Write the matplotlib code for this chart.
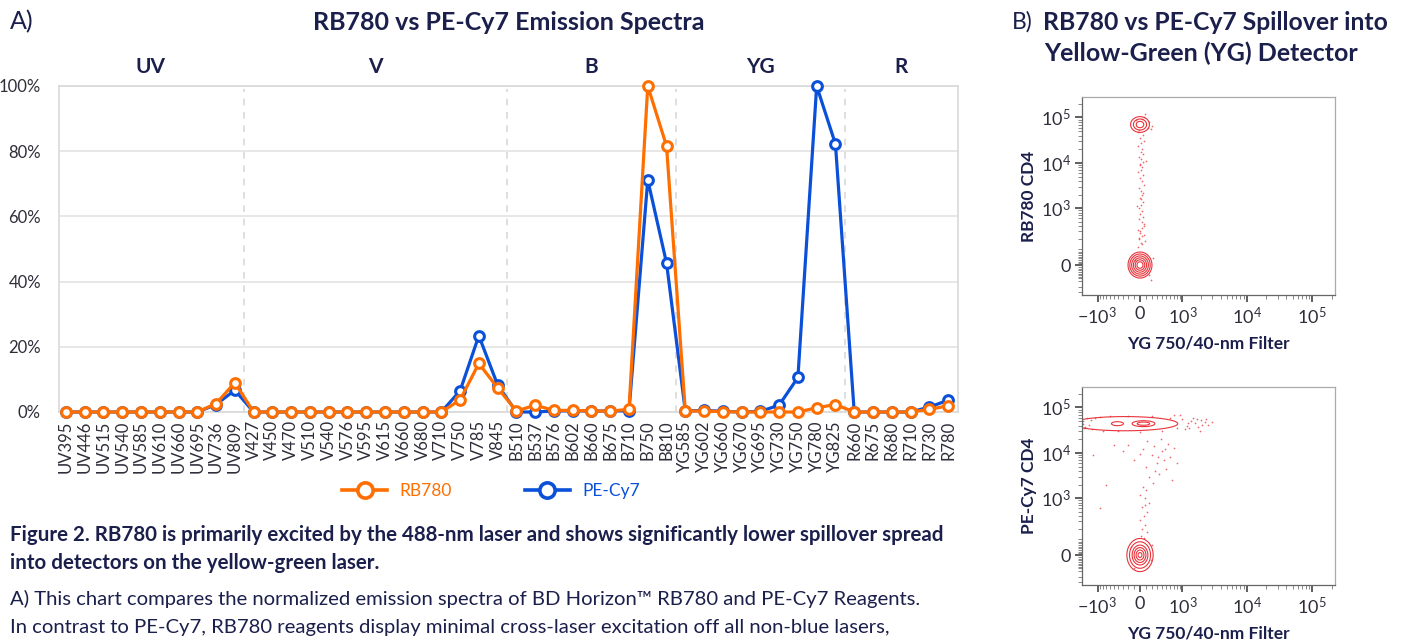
import numpy as np
import matplotlib
matplotlib.use('Agg')
import matplotlib.pyplot as plt
from matplotlib.lines import Line2D
from matplotlib.ticker import FixedLocator, NullFormatter, FixedFormatter
import matplotlib.transforms as mtransforms

plt.rcParams['font.family'] = ['Lato', 'DejaVu Sans']
plt.rcParams['mathtext.fontset'] = 'custom'
plt.rcParams['mathtext.rm'] = 'Lato'
plt.rcParams['mathtext.it'] = 'Lato:italic'
plt.rcParams['mathtext.bf'] = 'Lato:bold'

# ---------------- data: emission spectra ----------------
categories = ['UV395', 'UV446', 'UV515', 'UV540', 'UV585', 'UV610', 'UV660', 'UV695', 'UV736', 'UV809',
              'V427', 'V450', 'V470', 'V510', 'V540', 'V576', 'V595', 'V615', 'V660', 'V680', 'V710',
              'V750', 'V785', 'V845',
              'B510', 'B537', 'B576', 'B602', 'B660', 'B675', 'B710', 'B750', 'B810',
              'YG585', 'YG602', 'YG660', 'YG670', 'YG695', 'YG730', 'YG750', 'YG780', 'YG825',
              'R660', 'R675', 'R680', 'R710', 'R730', 'R780']
rb780 = [0, 0, 0, 0, 0, 0, 0, 0, 2.6, 9.0,
         0, 0, 0, 0, 0, 0, 0, 0, 0, 0, 0, 3.7, 14.9, 7.4,
         0.3, 2.1, 0.5, 0.5, 0.3, 0.3, 0.8, 100, 81.6,
         0.3, 0.3, 0.1, 0, 0, 0, 0, 1.3, 2.3,
         0, 0, 0, 0, 0.8, 1.9]
pecy7 = [0, 0, 0, 0, 0, 0, 0, 0, 2.3, 6.7,
         0, 0, 0, 0, 0, 0, 0, 0, 0, 0, 0, 6.5, 23.4, 8.3,
         0, 0, 0.3, 0.4, 0.3, 0.3, 0.4, 71.2, 45.7,
         0.3, 0.5, 0.2, 0, 0.2, 2.1, 10.6, 100, 82.2,
         0, 0, 0, 0, 1.5, 3.6]
sections = ['UV', 'V', 'B', 'YG', 'R']
ytick_vals = [0, 20, 40, 60, 80, 100]
ytick_labels = ['0%', '20%', '40%', '60%', '80%', '100%']

# ---------------- data: flow cytometry panels ----------------
flow_xticks = [-1e3, 0, 1e3, 1e4, 1e5]
flow_xticklabels = [r'$-10^3$', '0', r'$10^3$', r'$10^4$', r'$10^5$']
flow_yticks = [0, 1e3, 1e4, 1e5]
flow_yticklabels = ['0', r'$10^3$', r'$10^4$', r'$10^5$']

# panel 1 (RB780 CD4) events
p1_x = [15, -20, 40, 5, -35, 60, 25, -10, 50, 0, 30, -25, 10, 55, -5, 35,
        12, -18, 70, 28, 2, 45, -30, 20, 38, -8, 58, 10, -15, 48, 22, 33,
        -28, 16, 65, 6, 42, -12, 30, 80, 150, 200, -60, 180, 220, 160, -90, 190,
        -40, 25, 90, -15, 60, 5, 35, 75, -50, 20, 45, 0, 100, 130, 70, -30]
p1_y = [150, 190, 230, 280, 330, 400, 480, 560, 650, 760, 880, 1000, 1200, 1400, 1700, 2000,
        2400, 2800, 3300, 3900, 4600, 5400, 6200, 7100, 8200, 9300, 10500, 12000, 13500, 15500, 17500, 20000,
        23000, 27000, 31000, 36000, 42000, 52000, 95000, 120000, 80000, 65000, 90000, 55000, 40, -60, 30, -90,
        120, 140, 170, 210, 250, 300, 360, 440, 1100, 1600, 2200, 8800, 11000, 60000, 100000, 48000]
# panel 2 (PE-Cy7 CD4) events
p2_x = [-1700, -1600, -1500, -1400, -1250, -1100, -900, -800, -600, -400, -200, 0, 200, 400, 600,
        800, 1000, 1200, 1400, 1600, 1800, 2000, 2300, 2600, 3000, 1500, 1100, -1750, 700, 1900,
        -200, 50, 200, 400, 600, 300, 100, 500, -100, 250, 700, 350, 150, 450, 800, 0, 550, -300, 120, 380,
        50, 100, 0, 80, 150, 30, 120, 60, 0, 90, 40, 110, 20, 70,
        -1200, -700, -900, -500, 180, -150, 200, -100,
        1300, 1700, 2100, 900, -1300, -1650, 2400, 1250, 650, 320, 480, 220, 90, 260]
p2_y = [50000, 38000, 60000, 42000, 33000, 58000, 62000, 31000, 64000, 30000, 66000, 29000, 65000, 31000, 60000,
        35000, 55000, 40000, 50000, 45000, 38000, 52000, 47000, 42000, 48000, 60000, 33000, 43000, 68000, 30000,
        15000, 12000, 9000, 11000, 8000, 6000, 5000, 4500, 7000, 14000, 13000, 3500, 3000, 7000, 6000, 9500, 16000, 11000, 18000, 20000,
        1800, 1500, 1200, 1000, 800, 650, 500, 400, 320, 250, 200, 160, 130, 110,
        9000, 2000, 600, 15000, -30, 50, 60, -80,
        36000, 56000, 41000, 70000, 52000, 36000, 55000, 45000, 2500, 8000, 12000, 2200, 700, 4000]

# contour rings: centre (data units), radii in transformed units, ring scales
p1_pops = [((0, 70000), (0.33, 0.40), [1.0, 0.7, 0.4]),
           ((0, 0), (0.42, 0.66), [1.0, 0.85, 0.7, 0.55, 0.4, 0.25])]
p2_pops = [((-262, 44000), (1.85, 0.36), [1.0]),
           ((-416, 44000), (0.21, 0.10), [1.0]),
           ((58, 44000), (0.40, 0.15), [1.0, 0.55]),
           ((0, 0), (0.46, 0.84), [1.0, 0.8, 0.6, 0.45, 0.3, 0.15])]

ORANGE = '#FF6E00'
BLUE = '#0A50D8'
NAVY = '#1B1F4B'
TICK = '#2E2E3A'
RED = '#E8333A'
WX, WY = 475.0, 112.0

W, H = 1406, 640
fig = plt.figure(figsize=(W / 100, H / 100), dpi=100)


def fx(x):
    return x / W


def fy(y):
    return 1 - y / H


def box(l, t, r, b):
    return [fx(l), fy(b), (r - l) / W, (b - t) / H]


# ---------------- Panel A ----------------
ax = fig.add_axes(box(59, 86, 958, 412))
xs = np.arange(len(categories))
ax.plot(xs, np.array(pecy7) / 100, color=BLUE, lw=2.3, marker='o', ms=7,
        mfc='white', mec=BLUE, mew=2.2, zorder=3, clip_on=False)
ax.plot(xs, np.array(rb780) / 100, color=ORANGE, lw=2.3, marker='o', ms=7,
        mfc='white', mec=ORANGE, mew=2.2, zorder=4, clip_on=False)
ax.set_xlim(-0.37, len(categories) - 1 + 0.53)
ax.set_ylim(0, 1)
ax.set_yticks(np.array(ytick_vals) / 100)
ax.set_yticklabels(ytick_labels, fontsize=12, color=TICK)
ax.set_xticks(xs)
ax.set_xticklabels(categories, rotation=90, fontsize=12, color=TICK)
ax.tick_params(length=0, pad=6)
ax.tick_params(axis='y', pad=13)
ax.grid(axis='y', color='#E3E3E3', lw=1.2)
ax.set_axisbelow(True)
for s in ax.spines.values():
    s.set_color('#D9D9D9')
    s.set_linewidth(1.2)

# section labels and separators
prefixes = [''.join(ch for ch in c if ch.isalpha()) for c in categories]
trans = mtransforms.blended_transform_factory(ax.transData, ax.transAxes)
for i, sec in enumerate(sections):
    idx = [k for k, p in enumerate(prefixes) if p == sec]
    ax.text((idx[0] + idx[-1]) / 2, 1 + 19 / 326, sec, transform=trans, ha='center',
            va='center', fontsize=15, fontweight='bold', color=NAVY)
    if i < len(sections) - 1:
        ax.plot([idx[-1] + 0.5] * 2, [0, 0.99], transform=trans, color='#D9D9D9',
                lw=1.2, ls=(0, (4, 4)), zorder=1)

# legend
handles = [Line2D([], [], color=ORANGE, lw=2.6, marker='o', ms=11, mfc='white', mec=ORANGE, mew=2.6),
           Line2D([], [], color=BLUE, lw=2.6, marker='o', ms=11, mfc='white', mec=BLUE, mew=2.6)]
leg = fig.legend(handles, ['RB780', 'PE-Cy7'], loc='center', bbox_to_anchor=(fx(491), fy(491)),
                 ncol=2, frameon=False, fontsize=12.5, handlelength=2.6, columnspacing=4.2,
                 handletextpad=0.7)
for t, c in zip(leg.get_texts(), [ORANGE, BLUE]):
    t.set_color(c)

# titles
fig.text(fx(10), fy(22), 'A)', fontsize=18, color=NAVY, va='center', ha='left')
fig.text(fx(509), fy(22), 'RB780 vs PE-Cy7 Emission Spectra', fontsize=18, color=NAVY,
         fontweight='bold', va='center', ha='center')
fig.text(fx(1012), fy(22), 'B)', fontsize=16.5, color=NAVY, va='center', ha='left')
fig.text(fx(1043), fy(22), 'RB780 vs PE-Cy7 Spillover into', fontsize=17.8, color=NAVY,
         fontweight='bold', va='center', ha='left')
fig.text(fx(1201), fy(53), 'Yellow-Green (YG) Detector', fontsize=18, color=NAVY,
         fontweight='bold', va='center', ha='center')

# caption
fig.text(fx(10), fy(535), 'Figure 2. RB780 is primarily excited by the 488-nm laser and shows '
         'significantly lower spillover spread', fontsize=14.8, color=NAVY, fontweight='bold',
         va='center', ha='left')
fig.text(fx(10), fy(563), 'into detectors on the yellow-green laser.', fontsize=14.8, color=NAVY,
         fontweight='bold', va='center', ha='left')
fig.text(fx(10), fy(599), 'A) This chart compares the normalized emission spectra of BD Horizon\u2122 '
         'RB780 and PE-Cy7 Reagents.', fontsize=14.6, color=NAVY, va='center', ha='left')
fig.text(fx(10), fy(627), 'In contrast to PE-Cy7, RB780 reagents display minimal cross-laser '
         'excitation off all non-blue lasers,', fontsize=14.6, color=NAVY, va='center', ha='left')


# ---------------- Panel B ----------------
def flow_panel(top, bottom, ylab, px, py, pops):
    fa = fig.add_axes(box(1082, top, 1335, bottom))
    fa.set_xscale('asinh', linear_width=WX)
    fa.set_yscale('asinh', linear_width=WY)
    fa.set_xlim(-1786, 222000)
    fa.set_ylim(-244, 283000)
    # contours
    tx = np.linspace(np.arcsinh(-1786 / WX), np.arcsinh(222000 / WX), 500)
    ty = np.linspace(np.arcsinh(-244 / WY), np.arcsinh(283000 / WY), 500)
    TX, TY = np.meshgrid(tx, ty)
    X, Y = WX * np.sinh(TX), WY * np.sinh(TY)
    for (cx, cy), (rx, ry), scales in pops:
        Z = np.sqrt(((TX - np.arcsinh(cx / WX)) / rx) ** 2 + ((TY - np.arcsinh(cy / WY)) / ry) ** 2)
        fa.contour(X, Y, Z, levels=sorted(scales), colors=RED, linewidths=0.8)
    fa.scatter(px, py, s=1.5, color=RED, alpha=0.75, lw=0)
    # ticks
    fa.xaxis.set_major_locator(FixedLocator(flow_xticks))
    fa.xaxis.set_major_formatter(FixedFormatter(flow_xticklabels))
    xminor = [v for v in range(-900, 1000, 100) if v != 0] + list(range(2000, 10000, 1000)) + \
             list(range(20000, 100000, 10000)) + [200000]
    fa.xaxis.set_minor_locator(FixedLocator(xminor))
    fa.xaxis.set_minor_formatter(NullFormatter())
    fa.yaxis.set_major_locator(FixedLocator(flow_yticks))
    fa.yaxis.set_major_formatter(FixedFormatter(flow_yticklabels))
    yminor = [v for v in range(-80, 90, 10) if v != 0] + [-200, -150, -100] + \
             list(range(100, 1000, 100)) + list(range(2000, 10000, 1000)) + \
             list(range(20000, 100000, 10000)) + [200000]
    fa.yaxis.set_minor_locator(FixedLocator(yminor))
    fa.yaxis.set_minor_formatter(NullFormatter())
    fa.tick_params(which='major', length=5, width=1.1, color='#333333', labelsize=13,
                   labelcolor=TICK, pad=3)
    fa.tick_params(which='minor', length=3, width=0.7, color='#888888')
    for s in ['left', 'bottom']:
        fa.spines[s].set_color('#666666')
        fa.spines[s].set_linewidth(0.9)
    for s in ['top', 'right']:
        fa.spines[s].set_color('#AAAAAA')
        fa.spines[s].set_linewidth(0.9)
    fa.set_ylabel(ylab, fontsize=12.5, fontweight='bold', color=NAVY, labelpad=3)
    fa.set_xlabel('YG 750/40-nm Filter', fontsize=12.5, fontweight='bold', color=NAVY, labelpad=6)
    return fa


flow_panel(97, 295, 'RB780 CD4', p1_x, p1_y, p1_pops)
flow_panel(387, 585, 'PE-Cy7 CD4', p2_x, p2_y, p2_pops)

fig.savefig('out.png', dpi=100)
